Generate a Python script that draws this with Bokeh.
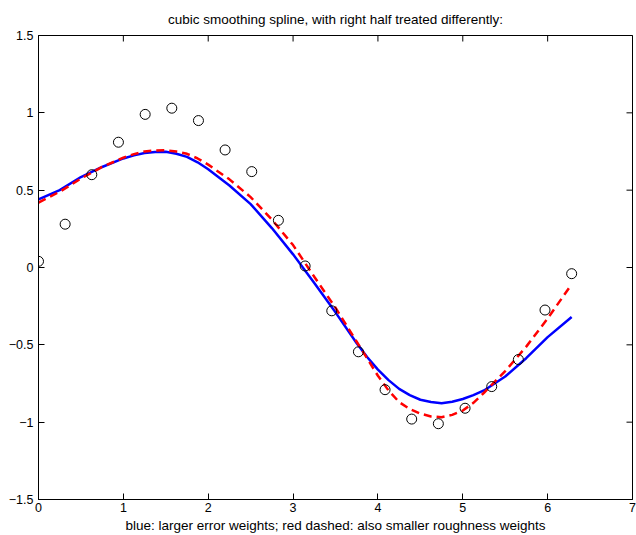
import math
from bokeh.plotting import figure
from bokeh.models import Range1d, FixedTicker
from bokeh.embed import file_html
from bokeh.resources import INLINE

# data points (circles)
x_data = [0.0, 0.314, 0.628, 0.942, 1.257, 1.571, 1.885, 2.199, 2.513, 2.827, 3.142,
          3.456, 3.770, 4.084, 4.398, 4.712, 5.027, 5.341, 5.655, 5.969, 6.283]
y_data = [0.04, 0.28, 0.60, 0.81, 0.99, 1.03, 0.95, 0.76, 0.62, 0.305, 0.01,
          -0.28, -0.545, -0.79, -0.98, -1.01, -0.91, -0.77, -0.595, -0.275, -0.04]

# curve samples
x_curve = [0.0, 0.25, 0.5, 0.75, 1.0, 1.125, 1.25, 1.375, 1.5, 1.625, 1.75, 1.875, 2.0,
           2.25, 2.5, 2.75, 3.0, 3.25, 3.5, 3.75, 3.875, 4.0, 4.125, 4.25, 4.375, 4.5,
           4.625, 4.75, 4.875, 5.0, 5.125, 5.25, 5.5, 5.75, 6.0, 6.283]
y_blue = [0.44, 0.50, 0.585, 0.65, 0.705, 0.725, 0.740, 0.747, 0.748, 0.735, 0.715, 0.68, 0.635,
          0.53, 0.41, 0.255, 0.085, -0.10, -0.29, -0.49, -0.58, -0.66, -0.728, -0.785, -0.825, -0.855,
          -0.870, -0.877, -0.868, -0.85, -0.825, -0.795, -0.705, -0.585, -0.45, -0.32]
y_red = [0.42, 0.49, 0.575, 0.65, 0.71, 0.733, 0.750, 0.757, 0.758, 0.750, 0.735, 0.705, 0.665,
         0.57, 0.455, 0.31, 0.145, -0.06, -0.26, -0.48, -0.59, -0.70, -0.795, -0.87, -0.915, -0.945,
         -0.963, -0.968, -0.953, -0.925, -0.875, -0.81, -0.67, -0.51, -0.33, -0.108]

x_ticks = [0, 1, 2, 3, 4, 5, 6, 7]
y_ticks = [-1.5, -1, -0.5, 0, 0.5, 1, 1.5]
y_tick_labels = {-1.5: "\u22121.5", -1: "\u22121", -0.5: "\u22120.5", 0: "0", 0.5: "0.5", 1: "1", 1.5: "1.5"}

title_text = "cubic smoothing spline, with right half treated differently:"
xlabel_text = "blue: larger error weights; red dashed: also smaller roughness weights"

FONT = "Liberation Sans"
X0, X1 = 0, 7
Y0, Y1 = -1.5, 1.5

p = figure(width=636, height=535, output_backend="svg", toolbar_location=None,
           x_range=Range1d(X0, X1), y_range=Range1d(Y0, Y1),
           min_border_left=38, min_border_right=4, min_border_top=33, min_border_bottom=35,
           title=title_text)

p.title.align = "center"
p.title.text_font = FONT
p.title.text_font_size = "13.5px"
p.title.text_font_style = "normal"
p.title.text_color = "black"
p.title.text_line_height = 0.8
p.title.standoff = 18
p.title.offset = 0

p.grid.visible = False
p.outline_line_color = "black"
p.outline_line_width = 1
p.background_fill_color = "white"
p.border_fill_color = "white"

for ax in [p.xaxis[0], p.yaxis[0]]:
    ax.axis_line_color = "black"
    ax.major_tick_in = 6
    ax.major_tick_out = 0
    ax.minor_tick_line_color = None
    ax.major_label_text_font = FONT
    ax.major_label_text_font_size = "12.5px"
    ax.major_label_text_color = "black"
    ax.major_tick_line_color = "black"

p.xaxis[0].ticker = FixedTicker(ticks=x_ticks)
p.yaxis[0].ticker = FixedTicker(ticks=y_ticks)
p.yaxis[0].major_label_overrides = y_tick_labels
p.xaxis[0].major_label_standoff = 3
p.yaxis[0].major_label_standoff = 5
p.xaxis[0].axis_label = xlabel_text
p.xaxis[0].axis_label_text_font = FONT
p.xaxis[0].axis_label_text_font_size = "13.5px"
p.xaxis[0].axis_label_text_font_style = "normal"
p.xaxis[0].axis_label_text_color = "black"
p.xaxis[0].axis_label_text_line_height = 1.0
p.xaxis[0].axis_label_standoff = 3

# inward ticks on top and right frame edges (clipped to frame -> half-length inside)
p.scatter(x_ticks, [Y1] * len(x_ticks), marker="dash", angle=math.pi / 2, size=12,
          line_color="black", line_width=1)
p.scatter([X1] * len(y_ticks), y_ticks, marker="dash", size=12,
          line_color="black", line_width=1)

p.line(x_curve, y_blue, line_color="#0000ff", line_width=2.5)
p.line(x_curve, y_red, line_color="#ff0000", line_width=2.5, line_dash="8 5")
p.scatter(x_data, y_data, marker="circle", size=10, fill_color=None,
          line_color="black", line_width=1)

open("out.html", "w").write(file_html(p, INLINE))
